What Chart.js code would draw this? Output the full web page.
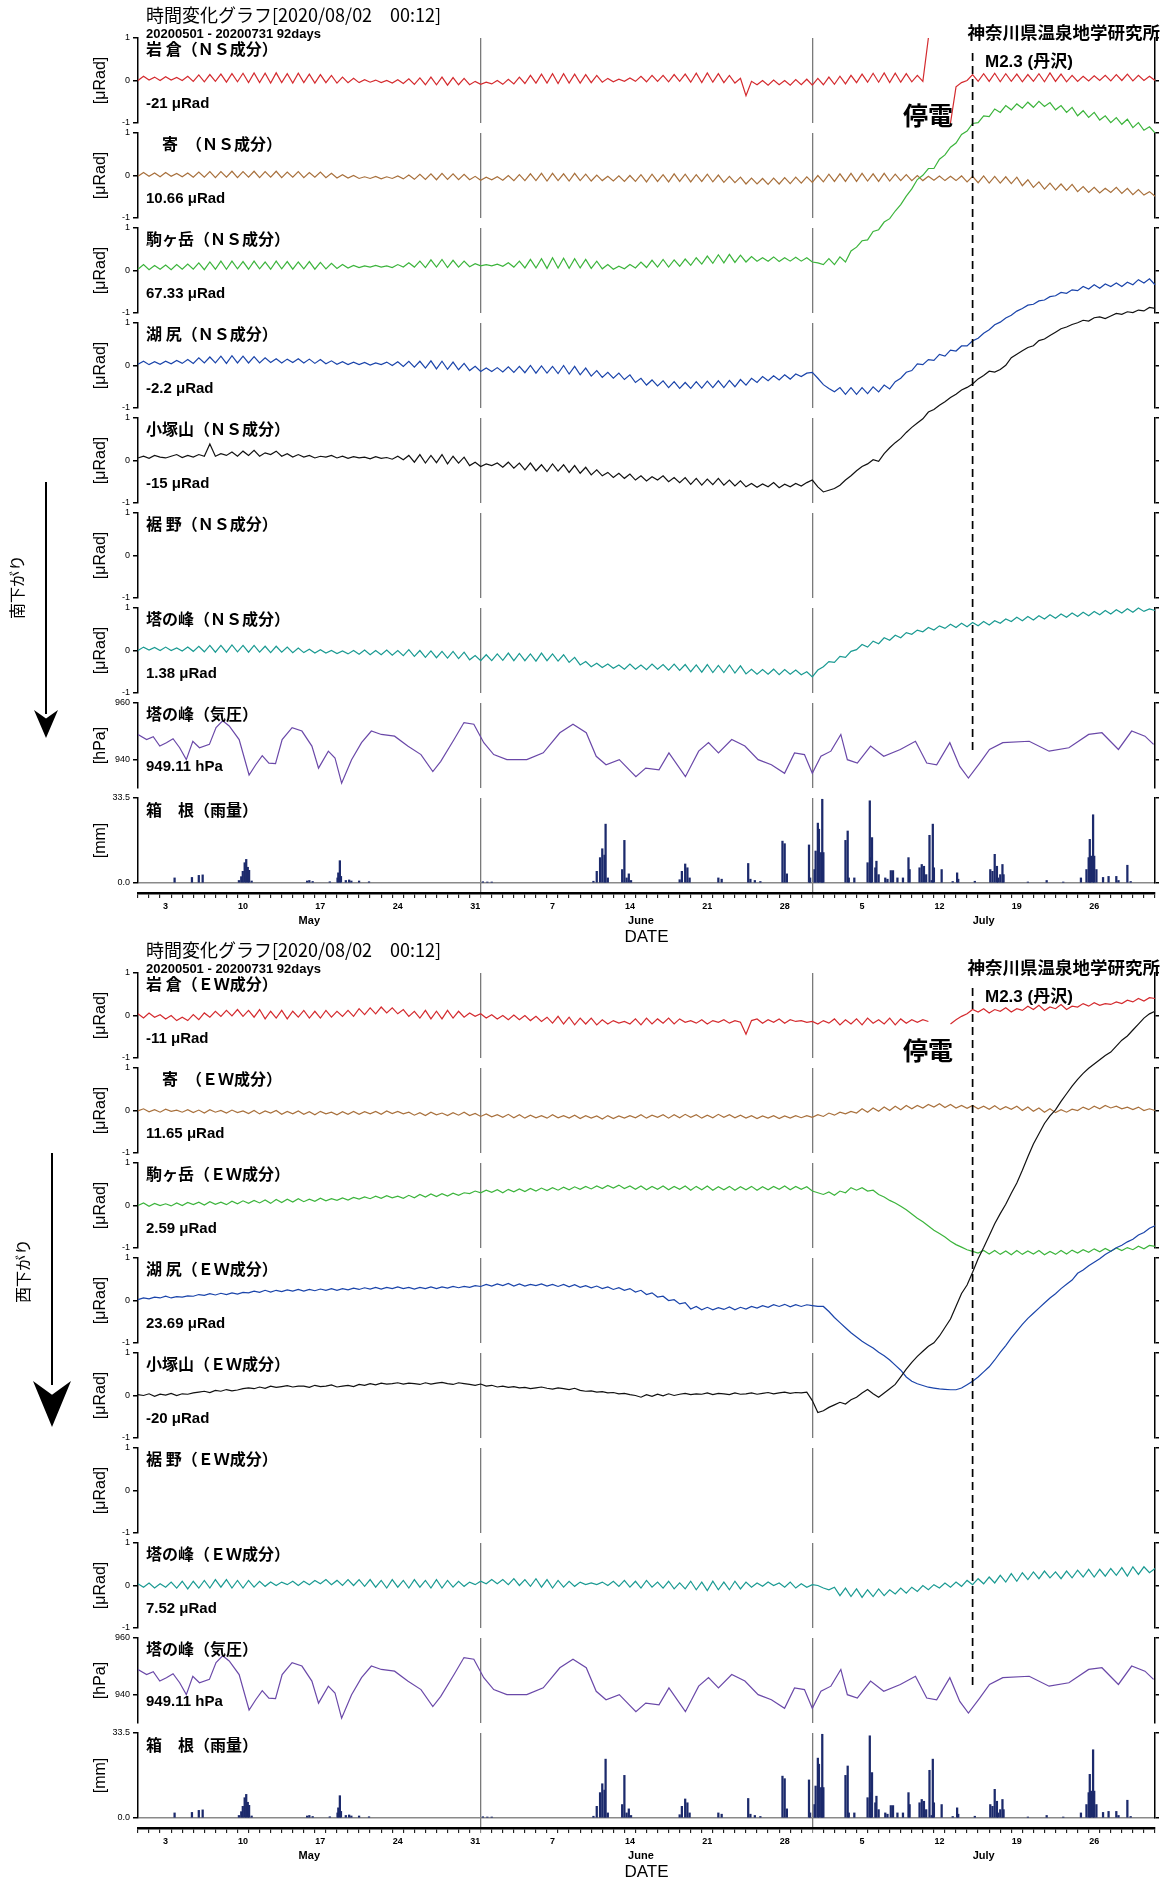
<!DOCTYPE html>
<html lang="ja">
<head>
<meta charset="utf-8">
<title>時間変化グラフ</title>
<script src="https://cdn.jsdelivr.net/npm/chart.js@4.4.1/dist/chart.umd.min.js"></script>
<style>
  html, body { margin: 0; padding: 0; background: #fff; }
  body { position: relative; width: 1163px; height: 1877px; overflow: hidden; }
  canvas { position: absolute; left: 0; }
  .txt { position: absolute; white-space: pre; color: #000; line-height: 1; }
  .jp { font-family: "Noto Sans CJK JP", sans-serif; }
  .en { font-family: "Liberation Sans", Arial, "Noto Sans CJK JP", sans-serif; }
</style>
</head>
<body>
<script>
// ── Axis data ─────────────────────────────────────────
const DAYS = 92;                       // 2020-05-01 .. 2020-08-01, x = days since May 1
const TICK_DAYS = [2, 9, 16, 23, 30, 37, 44, 51, 58, 65, 72, 79, 86];
const TICK_LABELS = ['3', '10', '17', '24', '31', '7', '14', '21', '28', '5', '12', '19', '26'];
const MONTH_DAYS = [15, 45, 76];
const MONTH_LABELS = ['May', 'June', 'July'];
const MONTH_START = [31, 61];
const EVENT_DAY = 75.5;                // M2.3 (丹沢)
const TILT_TICKS = [-1, 0, 1];
const PRES_TICKS = [940, 960];
const RAIN_TICKS = [0, 33.5];

const STATIONS = ['岩 倉', '　寄　', '駒ヶ岳', '湖 尻', '小塚山', '裾 野', '塔の峰'];
const NS_OFFSETS = ['-21 μRad', '10.66 μRad', '67.33 μRad', '-2.2 μRad', '-15 μRad', '', '1.38 μRad'];
const EW_OFFSETS = ['-11 μRad', '11.65 μRad', '2.59 μRad', '23.69 μRad', '-20 μRad', '', '7.52 μRad'];
const COLORS = ['#d42a2e', '#a8703c', '#3cb43c', '#1a44aa', '#111111', '#000000', '#1a9a92'];

// ── Tilt series, every 12 h from May 1 00:00 (185 values) ──
const NS_IWAKURA = [
  0.00,0.10,0.01,0.08,0.00,0.09,0.01,0.07,0.00,0.10,
  -0.02,0.13,-0.03,0.14,-0.02,0.15,-0.04,0.16,-0.03,0.17,
  -0.05,0.18,-0.05,0.17,-0.06,0.18,-0.05,0.16,-0.06,0.17,
  -0.05,0.15,-0.06,0.14,-0.05,0.12,-0.06,0.08,-0.05,0.05,
  -0.05,0.02,-0.04,0.01,-0.05,0.00,-0.06,0.02,-0.07,0.04,
  -0.09,0.06,-0.10,0.08,-0.10,0.08,-0.11,0.07,-0.10,0.05,
  -0.10,-0.02,-0.09,-0.04,-0.08,0.00,-0.09,0.03,-0.08,0.08,
  -0.07,0.12,-0.06,0.15,-0.06,0.16,-0.07,0.16,-0.06,0.15,
  -0.06,0.14,-0.05,0.12,-0.04,0.05,-0.03,0.03,-0.02,0.06,
  -0.02,0.10,-0.03,0.12,-0.02,0.12,-0.03,0.14,-0.02,0.15,
  -0.04,0.17,-0.05,0.18,-0.04,0.16,-0.05,0.12,-0.06,0.05,
  -0.36,-0.02,-0.10,0.00,-0.11,0.01,-0.10,0.00,-0.11,0.02,
  -0.10,0.03,-0.11,0.05,-0.10,0.08,-0.09,0.10,-0.08,0.12,
  -0.05,0.15,-0.04,0.17,-0.04,0.18,-0.05,0.17,-0.04,0.16,
  -0.03,0.12,-0.02,1.00,null,null,null,-1.00,-0.15,-0.05,
  0.00,0.14,-0.02,0.16,-0.02,0.17,-0.03,0.16,-0.02,0.15,
  -0.03,0.14,-0.02,0.16,-0.03,0.18,-0.02,0.15,-0.03,0.12,
  -0.02,0.10,-0.01,0.11,0.00,0.12,-0.01,0.14,0.00,0.15,
  -0.01,0.12,0.00,0.10,0.00
];
const NS_YADORIKI = [
  -0.02,0.07,-0.02,0.06,-0.03,0.07,-0.02,0.05,-0.03,0.06,
  -0.04,0.08,-0.04,0.09,-0.05,0.09,-0.04,0.10,-0.05,0.09,
  -0.04,0.10,-0.05,0.09,-0.04,0.10,-0.05,0.08,-0.04,0.09,
  -0.05,0.07,-0.04,0.08,-0.05,0.05,-0.06,0.02,-0.06,0.00,
  -0.07,-0.03,-0.07,-0.02,-0.08,-0.03,-0.07,-0.01,-0.08,0.01,
  -0.09,0.03,-0.09,0.04,-0.10,0.05,-0.09,0.04,-0.10,0.03,
  -0.10,-0.02,-0.11,-0.04,-0.10,-0.03,-0.11,0.00,-0.12,0.02,
  -0.12,0.04,-0.12,0.05,-0.13,0.05,-0.12,0.04,-0.13,0.05,
  -0.12,0.03,-0.13,0.01,-0.12,-0.02,-0.13,-0.01,-0.14,0.00,
  -0.14,0.02,-0.15,0.03,-0.14,0.02,-0.15,0.04,-0.14,0.03,
  -0.15,0.02,-0.14,0.03,-0.15,0.01,-0.16,-0.02,-0.17,-0.04,
  -0.20,-0.06,-0.20,-0.07,-0.21,-0.06,-0.20,-0.05,-0.19,-0.04,
  -0.18,-0.03,-0.16,0.00,-0.15,0.03,-0.14,0.04,-0.14,0.05,
  -0.14,0.05,-0.13,0.04,-0.14,0.05,-0.13,0.03,-0.12,0.02,
  -0.12,0.00,-0.12,-0.02,-0.11,-0.01,-0.12,-0.02,-0.12,-0.01,
  -0.15,-0.02,-0.17,-0.01,-0.18,-0.02,-0.18,-0.03,-0.19,-0.04,
  -0.24,-0.10,-0.28,-0.15,-0.32,-0.18,-0.34,-0.20,-0.35,-0.21,
  -0.38,-0.26,-0.40,-0.28,-0.41,-0.30,-0.40,-0.28,-0.42,-0.30,
  -0.45,-0.33,-0.46,-0.38,-0.49
];
const NS_KOMAGATAKE = [
  0.03,0.14,0.02,0.12,0.03,0.13,0.02,0.14,0.03,0.15,
  0.03,0.18,0.02,0.20,0.03,0.22,0.03,0.22,0.04,0.21,
  0.03,0.22,0.04,0.20,0.03,0.22,0.04,0.21,0.03,0.20,
  0.04,0.21,0.03,0.19,0.04,0.17,0.05,0.14,0.06,0.12,
  0.07,0.11,0.08,0.12,0.08,0.11,0.07,0.14,0.08,0.18,
  0.08,0.22,0.07,0.25,0.08,0.26,0.07,0.24,0.08,0.22,
  0.09,0.16,0.11,0.14,0.11,0.15,0.10,0.18,0.08,0.22,
  0.06,0.26,0.06,0.28,0.05,0.30,0.06,0.29,0.05,0.28,
  0.06,0.26,0.05,0.22,0.04,0.14,0.03,0.10,0.04,0.14,
  0.06,0.20,0.07,0.24,0.08,0.26,0.08,0.25,0.10,0.27,
  0.12,0.30,0.15,0.34,0.17,0.37,0.18,0.38,0.19,0.36,
  0.20,0.33,0.22,0.30,0.22,0.32,0.21,0.30,0.22,0.31,
  0.22,0.30,0.20,0.18,0.14,0.28,0.14,0.32,0.20,0.46,
  0.55,0.70,0.72,0.92,0.96,1.14,1.22,1.40,1.55,1.75,
  1.92,2.14,2.24,2.40,2.40,2.62,2.72,2.90,3.00,3.20,
  3.28,3.46,3.48,3.64,3.62,3.80,3.72,3.88,3.78,3.92,
  3.82,3.96,3.84,3.98,3.86,3.95,3.78,3.88,3.72,3.84,
  3.64,3.76,3.60,3.72,3.54,3.64,3.48,3.60,3.44,3.56,
  3.36,3.48,3.30,3.38,3.24
];
const NS_KOJIRI = [
  0.03,0.10,0.02,0.09,0.03,0.10,0.04,0.12,0.05,0.14,
  0.05,0.18,0.06,0.20,0.06,0.22,0.05,0.23,0.06,0.22,
  0.06,0.21,0.06,0.18,0.07,0.16,0.06,0.15,0.07,0.16,
  0.06,0.15,0.05,0.14,0.04,0.11,0.03,0.09,0.02,0.08,
  0.02,0.07,0.01,0.06,0.02,0.08,0.00,0.09,-0.02,0.10,
  -0.04,0.10,-0.06,0.11,-0.08,0.10,-0.09,0.08,-0.10,0.05,
  -0.12,-0.02,-0.14,-0.06,-0.14,-0.05,-0.15,-0.03,-0.16,-0.02,
  -0.17,0.00,-0.18,-0.01,-0.18,-0.02,-0.19,0.00,-0.20,-0.02,
  -0.22,-0.06,-0.25,-0.12,-0.28,-0.16,-0.30,-0.18,-0.33,-0.22,
  -0.40,-0.30,-0.46,-0.34,-0.48,-0.36,-0.52,-0.38,-0.54,-0.40,
  -0.54,-0.38,-0.53,-0.37,-0.52,-0.36,-0.52,-0.35,-0.50,-0.33,
  -0.46,-0.30,-0.40,-0.26,-0.36,-0.24,-0.34,-0.22,-0.32,-0.20,
  -0.26,-0.18,-0.16,-0.30,-0.45,-0.54,-0.62,-0.52,-0.68,-0.52,
  -0.68,-0.52,-0.66,-0.50,-0.62,-0.46,-0.55,-0.38,-0.30,-0.16,
  -0.12,0.04,0.02,0.14,0.12,0.26,0.22,0.36,0.34,0.46,
  0.46,0.58,0.64,0.76,0.84,0.96,1.02,1.12,1.18,1.28,
  1.34,1.42,1.44,1.52,1.54,1.62,1.64,1.72,1.70,1.78,
  1.76,1.86,1.80,1.90,1.82,1.92,1.86,1.94,1.86,1.96,
  1.90,2.02,1.94,2.04,1.90
];
const NS_KOZUKA = [
  0.06,0.10,0.05,0.12,0.08,0.06,0.10,0.14,0.07,0.12,
  0.08,0.14,0.10,0.39,0.10,0.16,0.12,0.20,0.10,0.22,
  0.12,0.24,0.10,0.18,0.14,0.22,0.10,0.16,0.08,0.14,
  0.08,0.12,0.06,0.10,0.08,0.12,0.06,0.10,0.05,0.09,
  0.06,0.08,0.04,0.09,0.05,0.07,0.03,0.10,0.02,0.12,
  -0.04,0.14,-0.06,0.12,-0.05,0.14,-0.08,0.10,-0.06,0.08,
  -0.12,-0.04,-0.14,-0.08,-0.12,-0.06,-0.16,-0.04,-0.18,-0.06,
  -0.22,-0.06,-0.24,-0.10,-0.26,-0.08,-0.25,-0.10,-0.28,-0.12,
  -0.30,-0.16,-0.34,-0.22,-0.36,-0.28,-0.40,-0.30,-0.42,-0.32,
  -0.46,-0.36,-0.48,-0.38,-0.46,-0.36,-0.50,-0.40,-0.52,-0.40,
  -0.56,-0.42,-0.58,-0.44,-0.57,-0.42,-0.58,-0.46,-0.60,-0.48,
  -0.62,-0.54,-0.63,-0.55,-0.62,-0.52,-0.64,-0.56,-0.62,-0.54,
  -0.60,-0.52,-0.46,-0.62,-0.74,-0.70,-0.66,-0.58,-0.46,-0.36,
  -0.24,-0.14,-0.08,0.02,-0.02,0.16,0.30,0.42,0.52,0.66,
  0.78,0.88,0.98,1.14,1.20,1.30,1.38,1.48,1.56,1.66,
  1.72,1.80,1.92,2.00,2.10,2.08,2.14,2.24,2.42,2.50,
  2.58,2.66,2.70,2.82,2.86,2.94,3.02,3.10,3.14,3.20,
  3.24,3.30,3.28,3.36,3.38,3.34,3.40,3.46,3.44,3.50,
  3.48,3.54,3.52,3.60,3.58
];
const NS_TONOMINE = [
  0.00,0.08,0.01,0.07,0.00,0.08,0.00,0.06,-0.01,0.08,
  -0.02,0.10,-0.03,0.12,-0.04,0.12,-0.04,0.13,-0.03,0.12,
  -0.04,0.12,-0.04,0.10,-0.05,0.10,-0.04,0.08,-0.05,0.06,
  -0.05,0.03,-0.06,0.02,-0.06,0.00,-0.07,-0.01,-0.08,0.00,
  -0.09,0.01,-0.10,0.00,-0.10,0.01,-0.11,0.00,-0.12,0.02,
  -0.14,0.00,-0.16,-0.01,-0.17,-0.02,-0.18,-0.02,-0.19,-0.04,
  -0.22,-0.12,-0.24,-0.10,-0.24,-0.08,-0.23,-0.06,-0.24,-0.07,
  -0.24,-0.08,-0.25,-0.06,-0.24,-0.08,-0.25,-0.10,-0.28,-0.16,
  -0.34,-0.26,-0.38,-0.30,-0.40,-0.32,-0.42,-0.34,-0.44,-0.32,
  -0.44,-0.34,-0.45,-0.32,-0.44,-0.33,-0.46,-0.32,-0.47,-0.33,
  -0.50,-0.34,-0.51,-0.33,-0.52,-0.35,-0.52,-0.34,-0.53,-0.36,
  -0.55,-0.44,-0.56,-0.45,-0.56,-0.44,-0.57,-0.45,-0.56,-0.46,
  -0.57,-0.50,-0.62,-0.46,-0.38,-0.26,-0.28,-0.14,-0.16,-0.02,
  0.02,0.14,0.08,0.22,0.16,0.30,0.24,0.36,0.30,0.42,
  0.38,0.48,0.44,0.54,0.48,0.58,0.52,0.62,0.54,0.64,
  0.56,0.66,0.58,0.68,0.60,0.70,0.64,0.74,0.68,0.78,
  0.70,0.80,0.72,0.82,0.74,0.84,0.76,0.86,0.78,0.88,
  0.80,0.90,0.82,0.92,0.84,0.94,0.86,0.96,0.88,0.98,
  0.90,1.00,0.92,0.98,0.94
];

const EW_IWAKURA = [
  0.04,-0.06,0.06,-0.04,0.02,-0.08,0.00,-0.12,-0.04,-0.12,
  0.02,-0.10,0.06,-0.04,0.10,-0.02,0.12,-0.01,0.14,-0.02,
  0.12,-0.04,0.14,-0.08,0.10,-0.06,0.12,-0.08,0.10,-0.04,
  0.12,-0.06,0.10,-0.06,0.12,-0.04,0.10,-0.02,0.12,-0.02,
  0.16,0.02,0.18,0.04,0.20,0.06,0.18,0.04,0.14,-0.02,
  0.10,-0.06,0.12,-0.08,0.10,-0.08,0.12,-0.06,0.10,-0.04,
  0.06,-0.02,0.04,-0.06,0.02,-0.08,0.00,-0.10,0.01,-0.10,
  0.00,-0.12,-0.02,-0.14,-0.04,-0.18,-0.02,-0.20,-0.04,-0.22,
  -0.06,-0.20,-0.06,-0.22,-0.10,-0.20,-0.12,-0.18,-0.14,-0.20,
  -0.08,-0.22,-0.06,-0.20,-0.08,-0.18,-0.06,-0.20,-0.08,-0.16,
  -0.12,-0.18,-0.10,-0.20,-0.12,-0.16,-0.10,-0.18,-0.12,-0.16,
  -0.44,-0.12,-0.08,-0.18,-0.10,-0.16,-0.08,-0.18,-0.10,-0.14,
  -0.12,-0.16,-0.14,-0.20,-0.12,-0.18,-0.08,-0.22,-0.10,-0.20,
  -0.08,-0.22,-0.06,-0.18,-0.10,-0.20,-0.06,-0.22,-0.08,-0.18,
  -0.10,-0.16,-0.10,-0.14,null,null,null,-0.20,-0.10,-0.02,
  0.04,0.14,0.08,0.16,0.06,0.14,0.10,0.18,0.08,0.16,
  0.12,0.22,0.14,0.24,0.12,0.20,0.16,0.26,0.14,0.22,
  0.20,0.28,0.22,0.30,0.24,0.28,0.26,0.32,0.28,0.36,
  0.32,0.40,0.34,0.42,0.40
];
const EW_YADORIKI = [
  -0.01,0.04,-0.03,0.02,-0.04,0.03,-0.02,0.01,-0.04,0.02,
  -0.05,0.01,-0.06,0.02,-0.04,0.00,-0.06,0.01,-0.05,-0.01,
  -0.07,0.00,-0.08,-0.01,-0.06,0.00,-0.09,-0.02,-0.08,-0.01,
  -0.09,-0.03,-0.10,-0.02,-0.08,-0.04,-0.10,-0.03,-0.09,-0.02,
  -0.09,-0.03,-0.08,-0.02,-0.09,-0.01,-0.07,-0.02,-0.08,-0.04,
  -0.11,-0.05,-0.12,-0.04,-0.10,-0.06,-0.12,-0.05,-0.11,-0.04,
  -0.12,-0.07,-0.14,-0.08,-0.15,-0.10,-0.16,-0.09,-0.17,-0.10,
  -0.18,-0.11,-0.17,-0.12,-0.18,-0.10,-0.17,-0.12,-0.18,-0.11,
  -0.19,-0.12,-0.18,-0.13,-0.20,-0.12,-0.19,-0.13,-0.18,-0.12,
  -0.17,-0.10,-0.18,-0.11,-0.16,-0.10,-0.18,-0.10,-0.17,-0.09,
  -0.16,-0.10,-0.18,-0.11,-0.17,-0.09,-0.16,-0.10,-0.17,-0.11,
  -0.18,-0.12,-0.19,-0.13,-0.18,-0.12,-0.19,-0.13,-0.18,-0.12,
  -0.17,-0.12,-0.16,-0.10,-0.14,-0.06,-0.11,-0.04,-0.08,-0.02,
  -0.06,0.04,-0.04,0.06,-0.02,0.08,0.00,0.10,0.02,0.12,
  0.04,0.12,0.06,0.14,0.08,0.16,0.07,0.14,0.06,0.12,
  0.05,0.12,0.04,0.10,0.03,0.11,0.02,0.09,0.03,0.10,
  0.00,0.08,-0.02,0.06,-0.04,0.04,-0.05,0.02,-0.04,0.03,
  0.00,0.08,0.02,0.10,0.04,0.12,0.06,0.10,0.04,0.08,
  0.02,0.08,0.00,0.04,0.00
];
const EW_KOMAGATAKE = [
  0.00,0.06,-0.02,0.05,0.00,0.04,-0.01,0.06,0.00,0.07,
  0.02,0.08,0.01,0.09,0.03,0.08,0.02,0.10,0.04,0.11,
  0.05,0.12,0.06,0.13,0.05,0.14,0.07,0.15,0.08,0.16,
  0.09,0.15,0.10,0.17,0.11,0.16,0.12,0.18,0.13,0.19,
  0.15,0.20,0.16,0.22,0.17,0.23,0.18,0.22,0.17,0.24,
  0.18,0.26,0.20,0.27,0.21,0.28,0.22,0.29,0.24,0.30,
  0.28,0.34,0.30,0.36,0.31,0.37,0.30,0.38,0.32,0.39,
  0.33,0.40,0.34,0.41,0.35,0.42,0.36,0.43,0.37,0.44,
  0.38,0.45,0.39,0.46,0.40,0.47,0.41,0.48,0.40,0.46,
  0.38,0.46,0.37,0.45,0.38,0.46,0.37,0.45,0.38,0.46,
  0.36,0.45,0.37,0.46,0.36,0.44,0.37,0.45,0.36,0.44,
  0.37,0.45,0.36,0.44,0.37,0.45,0.38,0.46,0.37,0.45,
  0.38,0.44,0.34,0.30,0.26,0.32,0.24,0.34,0.30,0.42,
  0.36,0.42,0.34,0.36,0.26,0.20,0.12,0.06,-0.02,-0.10,
  -0.20,-0.30,-0.38,-0.48,-0.58,-0.66,-0.74,-0.84,-0.92,-0.98,
  -1.04,-1.08,-1.12,-1.06,-1.14,-1.06,-1.15,-1.07,-1.16,-1.06,
  -1.15,-1.07,-1.14,-1.06,-1.16,-1.08,-1.15,-1.06,-1.14,-1.05,
  -1.12,-1.04,-1.10,-1.02,-1.09,-1.01,-1.08,-1.00,-1.06,-0.99,
  -1.04,-0.96,-1.02,-0.94,-0.96
];
const EW_KOJIRI = [
  0.02,0.06,0.04,0.08,0.06,0.10,0.06,0.09,0.08,0.11,
  0.10,0.14,0.12,0.16,0.13,0.17,0.14,0.18,0.15,0.19,
  0.18,0.22,0.19,0.24,0.20,0.24,0.21,0.25,0.22,0.26,
  0.22,0.26,0.23,0.27,0.24,0.28,0.24,0.28,0.25,0.29,
  0.26,0.30,0.27,0.31,0.27,0.31,0.28,0.32,0.28,0.31,
  0.27,0.31,0.28,0.32,0.28,0.32,0.29,0.33,0.30,0.33,
  0.31,0.35,0.33,0.38,0.34,0.39,0.35,0.40,0.34,0.39,
  0.34,0.38,0.35,0.39,0.34,0.38,0.33,0.38,0.32,0.37,
  0.31,0.35,0.30,0.34,0.28,0.32,0.26,0.30,0.24,0.28,
  0.20,0.24,0.14,0.18,0.08,0.10,0.00,0.02,-0.08,-0.05,
  -0.20,-0.14,-0.22,-0.16,-0.22,-0.17,-0.21,-0.15,-0.22,-0.16,
  -0.20,-0.14,-0.18,-0.12,-0.16,-0.10,-0.14,-0.09,-0.15,-0.10,
  -0.14,-0.10,-0.12,-0.14,-0.14,-0.26,-0.40,-0.52,-0.64,-0.76,
  -0.86,-0.96,-1.04,-1.12,-1.22,-1.30,-1.40,-1.52,-1.64,-1.80,
  -1.90,-1.96,-2.00,-2.04,-2.06,-2.08,-2.09,-2.10,-2.10,-2.06,
  -1.98,-1.90,-1.80,-1.68,-1.56,-1.40,-1.22,-1.06,-0.88,-0.72,
  -0.56,-0.42,-0.30,-0.18,-0.06,0.06,0.16,0.28,0.38,0.48,
  0.64,0.72,0.82,0.90,0.98,1.08,1.16,1.24,1.30,1.38,
  1.44,1.54,1.60,1.70,1.76
];
const EW_KOZUKA = [
  0.02,0.00,0.04,-0.02,0.03,0.01,0.05,0.00,0.04,0.03,
  0.06,0.08,0.10,0.07,0.12,0.10,0.14,0.11,0.13,0.16,
  0.18,0.16,0.20,0.17,0.22,0.19,0.21,0.23,0.20,0.22,
  0.22,0.19,0.24,0.21,0.22,0.25,0.20,0.22,0.24,0.21,
  0.26,0.24,0.28,0.25,0.29,0.27,0.28,0.30,0.27,0.29,
  0.28,0.26,0.30,0.27,0.29,0.31,0.28,0.26,0.30,0.28,
  0.26,0.24,0.27,0.22,0.24,0.20,0.22,0.19,0.21,0.18,
  0.19,0.16,0.18,0.20,0.17,0.15,0.18,0.16,0.14,0.17,
  0.12,0.10,0.11,0.08,0.09,0.06,0.07,0.04,0.05,0.02,
  0.00,-0.04,0.02,-0.02,0.03,-0.01,0.04,0.00,0.03,0.05,
  0.02,0.04,0.03,0.06,0.02,0.05,0.04,0.02,0.06,0.03,
  0.04,0.06,0.03,0.05,0.07,0.04,0.06,0.08,0.05,0.07,
  0.06,0.08,-0.12,-0.40,-0.36,-0.28,-0.22,-0.16,-0.20,-0.10,
  -0.04,0.06,0.14,0.04,-0.04,0.06,0.16,0.26,0.44,0.62,
  0.78,0.92,1.04,1.16,1.24,1.40,1.60,1.80,2.10,2.40,
  2.60,2.90,3.22,3.48,3.76,4.04,4.28,4.50,4.76,5.00,
  5.30,5.62,5.92,6.16,6.40,6.58,6.72,6.92,7.10,7.28,
  7.44,7.58,7.70,7.80,7.90,8.00,8.08,8.22,8.36,8.46,
  8.60,8.74,8.88,8.98,9.04
];
const EW_TONOMINE = [
  0.04,-0.04,0.06,-0.06,0.04,-0.04,0.08,-0.06,0.10,-0.08,
  0.10,-0.06,0.12,-0.06,0.14,-0.04,0.14,-0.06,0.12,-0.06,
  0.12,-0.04,0.10,-0.02,0.08,0.00,0.08,0.02,0.10,0.00,
  0.10,0.02,0.12,0.04,0.14,0.02,0.12,0.00,0.14,0.00,
  0.14,-0.02,0.14,-0.04,0.12,-0.06,0.14,-0.04,0.12,-0.06,
  0.14,-0.04,0.12,-0.06,0.14,-0.06,0.12,-0.04,0.10,-0.02,
  0.08,0.02,0.10,0.04,0.14,0.04,0.14,0.02,0.16,0.00,
  0.14,-0.02,0.16,-0.04,0.14,-0.06,0.12,-0.04,0.10,-0.02,
  0.08,0.02,0.06,0.02,0.08,0.00,0.10,-0.02,0.12,-0.04,
  0.10,-0.06,0.12,-0.04,0.08,-0.06,0.10,-0.08,0.06,-0.08,
  0.10,-0.10,0.08,-0.12,0.10,-0.10,0.08,-0.10,0.10,-0.08,
  0.08,-0.04,0.06,-0.02,0.08,0.00,0.06,-0.04,0.08,-0.06,
  0.04,-0.04,0.02,0.00,-0.06,-0.10,-0.04,-0.24,-0.06,-0.26,
  -0.08,-0.28,-0.10,-0.26,-0.08,-0.24,-0.10,-0.20,-0.06,-0.18,
  -0.04,-0.14,0.00,-0.10,0.02,-0.06,0.06,-0.04,0.08,-0.02,
  0.12,0.02,0.16,0.04,0.20,0.06,0.24,0.08,0.28,0.10,
  0.30,0.14,0.32,0.16,0.34,0.18,0.32,0.16,0.34,0.18,
  0.36,0.20,0.38,0.20,0.38,0.22,0.40,0.24,0.42,0.22,
  0.44,0.26,0.44,0.30,0.40
];

// ── 塔の峰 pressure [hPa] (day, value) ───────────────
const PRES_T = [0,0.78,1.38,1.97,2.57,3.17,3.77,4.37,4.96,5.56,6.46,7.06,7.66,8.25,9.15,10.05,10.65,11.24,11.84,12.44,
  13.04,13.94,14.83,15.73,16.33,17.22,17.82,18.42,19.32,20.22,21.11,22.01,23.21,24.40,25.60,26.67,27.39,28.59,29.49,30.38,
  31.28,32.18,33.37,35.17,36.66,38.16,39.35,40.55,41.45,42.34,43.54,45.04,45.93,47.13,48.03,49.52,50.72,51.61,52.51,53.71,
  54.90,56.10,57.30,58.49,59.39,60.29,61.00,61.78,62.68,63.58,64.17,65.07,66.27,67.46,68.96,70.33,71.35,72.25,73.44,74.34,
  75.12,76.14,77.03,78.23,80.62,82.42,84.21,86.00,87.20,88.69,89.89,91.09,91.87];
const PRES_V = [948.9,947.1,948.1,944.8,946.0,947.4,944.2,940.0,946.5,944.2,945.4,951.3,953.7,951.9,947.1,934.6,938.2,941.4,938.8,938.6,
  947.1,951.3,950.1,944.8,937.0,943.0,940.6,931.7,940.0,946.0,950.1,948.9,948.3,944.8,941.8,935.8,939.4,947.1,953.1,952.5,
  946.0,941.8,940.0,940.0,942.4,949.5,952.5,949.5,941.2,938.2,940.0,934.0,937.0,936.4,942.4,934.0,943.0,946.0,942.4,947.1,
  944.8,940.0,938.2,935.2,942.4,941.8,935.2,941.2,943.0,948.9,940.0,938.8,944.8,941.2,943.6,946.5,938.8,938.2,946.0,937.6,
  933.5,938.8,943.6,946.0,946.5,943.0,944.2,948.9,949.5,943.6,950.1,948.3,945.4];

// ── 箱根 rainfall [mm] (day, value), only non-zero hours ──
const RAIN_T = [3.31,4.88,5.5,5.85,9.13,9.34,9.48,9.65,9.79,9.93,10.05,10.28,15.3,15.5,15.8,17.35,18.05,18.12,18.26,18.36,
  18.8,19.1,19.3,20.0,20.9,31.2,31.6,32.0,41.2,41.5,41.8,42.0,42.2,42.3,42.5,43.8,44.0,44.2,44.4,44.6,
  49.0,49.2,49.5,49.7,49.9,52.5,52.8,55.2,55.4,55.8,56.3,58.3,58.5,58.7,60.7,60.8,61.2,61.3,61.5,61.6,
  61.8,61.9,62.0,64.0,64.2,64.3,64.8,66.0,66.2,66.3,66.4,66.7,66.8,67.0,67.6,67.8,68.1,68.3,68.7,69.2,
  69.7,69.8,70.7,70.9,71.1,71.3,71.6,71.8,71.9,72.0,72.7,73.7,74.1,74.2,75.7,77.1,77.3,77.5,77.7,77.8,
  78.0,78.2,78.3,80.5,82.2,83.7,85.3,85.8,86.0,86.1,86.2,86.4,86.5,86.7,87.3,87.8,88.5,88.7,89.5,89.8];
const RAIN_V = [2.0,2.2,3.0,3.2,1.0,2.5,4.6,8.0,9.3,6.2,5.0,0.8,0.8,1.0,0.6,0.5,2.0,4.0,8.8,2.6,
  1.0,1.2,0.8,0.8,0.5,0.5,0.4,0.4,0.7,4.6,10.0,13.5,11.0,23.2,2.0,5.3,16.8,2.0,3.6,1.0,
  1.3,4.6,7.5,6.0,2.0,2.0,1.5,7.7,1.5,1.0,0.6,16.5,15.5,3.6,15.0,2.0,5.3,12.6,23.6,21.2,
  12.0,33.0,12.0,16.8,20.5,2.0,2.0,8.0,32.4,10.0,17.9,6.0,8.6,3.3,2.0,1.5,4.9,4.9,2.0,2.0,
  10.0,5.3,6.0,7.3,6.6,3.3,18.8,1.0,23.2,6.0,5.3,0.6,4.0,1.5,0.7,5.3,4.6,11.3,6.6,2.0,
  3.3,7.3,3.3,0.4,1.0,0.4,2.0,5.3,10.0,17.2,10.6,26.9,10.6,5.3,2.2,2.6,2.6,1.0,7.0,0.6];

// ── Layout ────────────────────────────────────────────
const W = 1163;
const BLOCK_H = 935;
const PANEL_TOP = [38, 133, 228, 323, 418, 513, 608, 703, 798];
const PANEL_H = 85;

Chart.defaults.font.family = '"Liberation Sans", Arial, sans-serif';
Chart.defaults.color = '#000';

function tiltPoints(arr) { return arr.map((v, i) => ({ x: i / 2, y: v })); }

function addCanvas(top, height) {
  const cv = document.createElement('canvas');
  cv.width = W; cv.height = height;
  cv.style.top = top + 'px';
  document.body.appendChild(cv);
  return cv;
}

function addText(str, x, y, size, cls, weight, align) {
  const d = document.createElement('div');
  d.className = 'txt ' + cls;
  d.textContent = str;
  d.style.fontSize = size + 'px';
  d.style.fontWeight = weight || 400;
  d.style.top = (y - size / 2) + 'px';
  if (align === 'right') d.style.right = (W - x) + 'px';
  else d.style.left = x + 'px';
  document.body.appendChild(d);
  return d;
}

// ── One panel: own canvas spanning the block, chart area at its slot ──
function panelChart(blockTop, p, cfg) {
  const cv = addCanvas(blockTop, BLOCK_H);
  const top = PANEL_TOP[p];
  const tickList = ax => { ax.ticks = cfg.ticks.map(v => ({ value: v })); };
  new Chart(cv, {
    type: cfg.type || 'line',
    data: { datasets: cfg.datasets },
    options: {
      responsive: false, animation: false, events: [],
      layout: { padding: { left: 88, right: 2, top: top, bottom: BLOCK_H - top - PANEL_H } },
      plugins: { legend: { display: false }, tooltip: { enabled: false } },
      scales: {
        x: {
          type: 'linear', min: 0, max: DAYS, offset: false,
          afterBuildTicks: ax => { ax.ticks = MONTH_START.map(v => ({ value: v })); },
          afterFit: ax => { ax.height = 0; },
          ticks: { display: false },
          grid: { color: '#7a7a7a', lineWidth: 1.3, drawTicks: false, offset: false },
          border: { display: false }
        },
        y: {
          min: cfg.min, max: cfg.max,
          afterBuildTicks: tickList,
          afterFit: ax => { ax.width = 50; },
          ticks: { font: { size: 9 }, padding: 3, callback: cfg.fmt },
          grid: {
            drawOnChartArea: !!cfg.zeroLine, lineWidth: 1.5, tickLength: 5, tickColor: '#000',
            color: ctx => (cfg.zeroLine && ctx.tick && ctx.tick.value === 0) ? '#8a8a8a' : 'rgba(0,0,0,0)'
          },
          border: { color: '#000', width: 1.5 },
          title: { display: true, text: cfg.unit, font: { size: 16 }, padding: { top: 3, bottom: 0 } }
        },
        yr: {
          position: 'right', min: cfg.min, max: cfg.max,
          afterBuildTicks: tickList,
          afterFit: ax => { ax.width = 6; },
          ticks: { display: false },
          grid: { drawOnChartArea: false, tickLength: 4, color: '#000', lineWidth: 1.5 },
          border: { color: '#000', width: 1.5 }
        }
      }
    }
  });
}

function lineSet(points, color, clip) {
  return { data: points, borderColor: color, borderWidth: 1.2, pointRadius: 0, tension: 0,
           spanGaps: false, clip: clip ? undefined : false };
}

// ── Date axis under each block (day numbers + month names) ──
function axisChart(blockTop) {
  const cv = addCanvas(blockTop + 870, 78);
  const isMonth = ctx => MONTH_DAYS.includes(ctx.tick && ctx.tick.value);
  new Chart(cv, {
    type: 'line',
    data: { datasets: [] },
    options: {
      responsive: false, animation: false, events: [],
      layout: { padding: { left: 138, right: 8, top: 13, bottom: 0 } },
      plugins: { legend: { display: false }, tooltip: { enabled: false } },
      scales: {
        x: {
          type: 'linear', position: 'bottom', min: 0, max: DAYS,
          afterBuildTicks: ax => { ax.ticks = Array.from({ length: DAYS + 1 }, (_, d) => ({ value: d })); },
          afterFit: ax => { ax.height = 55; },
          ticks: {
            autoSkip: false, maxRotation: 0, minRotation: 0, labelOffset: 5.5, padding: 3,
            font: ctx => isMonth(ctx) ? { size: 11, weight: 'bold' } : { size: 9, weight: 'bold' },
            callback: v => {
              const i = TICK_DAYS.indexOf(v);
              if (i >= 0) return TICK_LABELS[i];
              const m = MONTH_DAYS.indexOf(v);
              return m >= 0 ? ['', MONTH_LABELS[m]] : '';
            }
          },
          grid: {
            lineWidth: 1.3, tickLength: 5, tickWidth: 1,
            color: ctx => MONTH_START.includes(ctx.tick && ctx.tick.value) ? '#7a7a7a' : 'rgba(0,0,0,0)',
            tickColor: ctx => MONTH_START.includes(ctx.tick && ctx.tick.value) ? '#7a7a7a' : '#000'
          },
          border: { color: '#000', width: 2.5 },
          title: { display: true, text: 'DATE', font: { size: 17 }, padding: { top: 0, bottom: 0 } }
        },
        y: { display: false, min: 0, max: 1 }
      }
    }
  });
}

// ── Dashed event line (M2.3) ──────────────────────────
function eventChart(blockTop) {
  const cv = addCanvas(blockTop, BLOCK_H);
  new Chart(cv, {
    type: 'line',
    data: { datasets: [{ data: [{ x: EVENT_DAY, y: 0 }, { x: EVENT_DAY, y: 1 }], borderColor: '#000',
                         borderWidth: 1.7, borderDash: [8, 5], pointRadius: 0 }] },
    options: {
      responsive: false, animation: false, events: [],
      layout: { padding: { left: 138, right: 8, top: 48, bottom: BLOCK_H - 750 } },
      plugins: { legend: { display: false }, tooltip: { enabled: false } },
      scales: {
        x: { type: 'linear', display: false, min: 0, max: DAYS },
        y: { display: false, min: 0, max: 1 }
      }
    }
  });
}

function addArrow(x, y1, y2, headH, headW) {
  const h = y2 - y1;
  const d = document.createElement('div');
  d.style.position = 'absolute';
  d.style.left = (x - 40) + 'px';
  d.style.top = y1 + 'px';
  d.innerHTML = `<svg width="80" height="${h + 2}">
    <line x1="40" y1="0" x2="40" y2="${h - headH + 4}" stroke="#000" stroke-width="2"/>
    <polygon points="${40 - headW / 2},${h - headH} 40,${h} ${40 + headW / 2},${h - headH} 40,${h - headH * 0.7}" fill="#000"/>
  </svg>`;
  document.body.appendChild(d);
}

function drawBlock(top, comp, series, offsets, downText, arrow) {
  for (let p = 0; p < 7; p++) {
    const arr = series[p];
    panelChart(top, p, {
      min: -1, max: 1, ticks: TILT_TICKS, unit: '[μRad]', fmt: v => String(v),
      datasets: arr ? [lineSet(tiltPoints(arr), COLORS[p], false)] : []
    });
  }
  panelChart(top, 7, {
    min: 930, max: 960, ticks: PRES_TICKS, unit: '[hPa]', fmt: v => String(v),
    datasets: [lineSet(PRES_T.map((t, i) => ({ x: t, y: PRES_V[i] })), '#6a48a8', true)]
  });
  panelChart(top, 8, {
    type: 'bar', min: 0, max: 33.5, ticks: RAIN_TICKS, unit: '[mm]', fmt: v => v.toFixed(1), zeroLine: true,
    datasets: [{ data: RAIN_T.map((t, i) => ({ x: t, y: RAIN_V[i] })), backgroundColor: '#1c2a6c',
                 barThickness: 1.6, borderWidth: 0 }]
  });
  axisChart(top);
  eventChart(top);

  // texts
  addText('時間変化グラフ[2020/08/02　00:12]', 146, top + 14, 18, 'jp', 400);
  addText('20200501 - 20200731 92days', 146, top + 33, 13, 'en', 700);
  addText('神奈川県温泉地学研究所', 1160, top + 32, 17.5, 'jp', 700, 'right');
  addText('M2.3 (丹沢)', 985, top + 61, 17, 'en', 700);
  addText('停電', 903, top + 114, 25, 'jp', 700);
  for (let p = 0; p < 7; p++) {
    addText(`${STATIONS[p]}（${comp}成分）`, 146, top + PANEL_TOP[p] + 10, 16, 'jp', 700);
    if (offsets[p]) addText(offsets[p], 146, top + PANEL_TOP[p] + 64, 15, 'en', 700);
  }
  addText('塔の峰（気圧）', 146, top + PANEL_TOP[7] + 10, 16, 'jp', 700);
  addText('949.11 hPa', 146, top + PANEL_TOP[7] + 62, 15, 'en', 700);
  addText('箱　根（雨量）', 146, top + PANEL_TOP[8] + 11, 16, 'jp', 700);

  const v = addText(downText, downText === '南下がり' ? 16 : 22, arrow.ty, 16, 'jp', 400);
  v.style.transform = 'translate(-50%, 0) rotate(-90deg)';
  v.style.transformOrigin = '50% 50%';
  addArrow(arrow.x, arrow.y1, arrow.y2, arrow.hh, arrow.hw);
}

drawBlock(0, 'ＮＳ',
  [NS_IWAKURA, NS_YADORIKI, NS_KOMAGATAKE, NS_KOJIRI, NS_KOZUKA, null, NS_TONOMINE],
  NS_OFFSETS, '南下がり', { ty: 587, x: 46, y1: 482, y2: 738, hh: 28, hw: 24 });
drawBlock(BLOCK_H, 'ＥＷ',
  [EW_IWAKURA, EW_YADORIKI, EW_KOMAGATAKE, EW_KOJIRI, EW_KOZUKA, null, EW_TONOMINE],
  EW_OFFSETS, '西下がり', { ty: 1271, x: 52, y1: 1153, y2: 1427, hh: 46, hw: 38 });
</script>
</body>
</html>
